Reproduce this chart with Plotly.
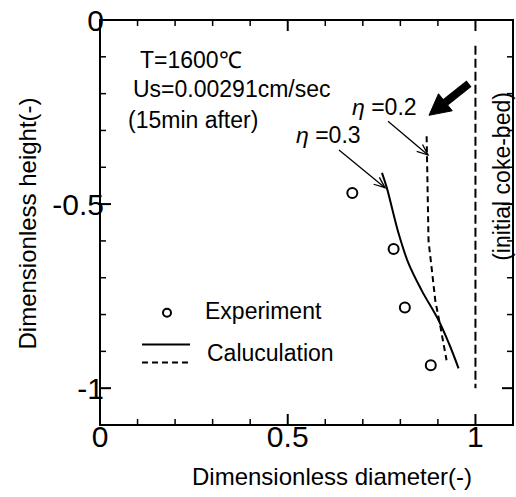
import math
import plotly.graph_objects as go

# Experimental points
exp_x = [0.672, 0.782, 0.812, 0.881]
exp_y = [-0.470, -0.622, -0.781, -0.938]

# Calculation eta = 0.3 (solid)
calc03_x = [0.751, 0.764, 0.780, 0.796, 0.822, 0.857, 0.902, 0.930, 0.955]
calc03_y = [-0.415, -0.456, -0.520, -0.582, -0.662, -0.735, -0.816, -0.880, -0.946]

# Calculation eta = 0.2 (dashed)
calc02_x = [0.870, 0.871, 0.873, 0.875, 0.884, 0.893, 0.907, 0.923]
calc02_y = [-0.316, -0.400, -0.500, -0.600, -0.680, -0.762, -0.835, -0.924]

# Initial coke-bed
bed_x = [1.0, 1.0]
bed_y = [-0.07, -1.0]

x_minor = [round(0.1 * i, 1) for i in range(12)]
y_minor = [round(-0.1 * i, 1) for i in range(12)]
x_major = [0.0, 0.5, 1.0]
y_major = [0.0, -0.5, -1.0]
x_labels = ["0", "0.5", "1"]
y_labels = ["0", "-0.5", "-1"]

FONT = "Liberation Sans, Arial, sans-serif"
W, H = 516, 497
L, R, T, B = 100, 3, 17, 72
pw, ph = W - L - R, H - T - B
XMAX, YMIN = 1.1, -1.1

def px(xp):
    return (xp - L) / pw

def py(yp):
    return 1 - (yp - T) / ph

def dx(xp):
    return (xp - L) / pw * XMAX

def dy(yp):
    return (yp - T) / ph * YMIN

fig = go.Figure()
fig.add_trace(go.Scatter(x=bed_x, y=bed_y, mode="lines",
                         line=dict(color="black", width=2, dash="9px,4px"), showlegend=False))
fig.add_trace(go.Scatter(x=calc02_x, y=calc02_y, mode="lines",
                         line=dict(color="black", width=2, dash="6px,4px"), showlegend=False))
fig.add_trace(go.Scatter(x=calc03_x, y=calc03_y, mode="lines", line_shape="spline",
                         line=dict(color="black", width=2), showlegend=False))
fig.add_trace(go.Scatter(x=exp_x, y=exp_y, mode="markers",
                         marker=dict(symbol="circle-open", size=10, color="black", line=dict(width=2)),
                         showlegend=False))

base = dict(showline=False, ticks="", showgrid=False, zeroline=False)
fig.update_layout(
    xaxis=dict(range=[0, XMAX], tickmode="array", tickvals=x_major, ticktext=x_labels,
               ticklabelstandoff=-9, tickfont=dict(family=FONT, size=30, color="black"), **base),
    yaxis=dict(range=[YMIN, 0], tickmode="array", tickvals=y_major, ticktext=y_labels,
               ticklabelstandoff=-5, tickfont=dict(family=FONT, size=30, color="black"), **base),
)

shapes = []
shapes.append(dict(type="rect", xref="paper", yref="paper", x0=0, x1=1, y0=0, y1=1,
                   line=dict(color="black", width=2), layer="above"))

def xtick(v, ln, w):
    out = []
    for anchor, sign in [(0, 1), (1, -1)]:
        out.append(dict(type="line", xref="x", x0=v, x1=v, yref="paper", ysizemode="pixel",
                        yanchor=anchor, y0=0, y1=sign * ln, line=dict(color="black", width=w),
                        layer="above"))
    return out

def ytick(v, ln, w):
    out = []
    for anchor, sign in [(0, 1), (1, -1)]:
        out.append(dict(type="line", yref="y", y0=v, y1=v, xref="paper", xsizemode="pixel",
                        xanchor=anchor, x0=0, x1=sign * ln, line=dict(color="black", width=w),
                        layer="above"))
    return out

for v in x_minor:
    major = v in x_major
    shapes += xtick(v, 11 if major else 6, 2 if major else 1.5)
for v in y_minor:
    major = v in y_major
    shapes += ytick(v, 11 if major else 6, 2 if major else 1.5)

# legend samples
shapes += [
    dict(type="circle", xref="paper", yref="paper", x0=px(163), x1=px(171), y0=py(316), y1=py(308),
         line=dict(color="black", width=2)),
    dict(type="line", xref="paper", yref="paper", x0=px(142), x1=px(190), y0=py(344), y1=py(344),
         line=dict(color="black", width=2)),
    dict(type="line", xref="paper", yref="paper", x0=px(142), x1=px(188), y0=py(362), y1=py(362),
         line=dict(color="black", width=2, dash="6px,4px")),
]

# arrows drawn as shapes (tail/tip in picture pixels)
def arrow(tail, tip, head_len, head_half, width, filled):
    (tx, ty), (hx, hy) = tail, tip
    ln = math.hypot(hx - tx, hy - ty)
    ux, uy = (hx - tx) / ln, (hy - ty) / ln
    nx, ny = -uy, ux
    bx, by = hx - head_len * ux, hy - head_len * uy
    c1 = (bx + head_half * nx, by + head_half * ny)
    c2 = (bx - head_half * nx, by - head_half * ny)
    out = []
    end = (bx, by) if filled else (hx, hy)
    out.append(dict(type="line", xref="x", yref="y", x0=dx(tx), y0=dy(ty), x1=dx(end[0]), y1=dy(end[1]),
                    line=dict(color="black", width=width)))
    path = "M {:.4f},{:.4f} L {:.4f},{:.4f} L {:.4f},{:.4f}".format(
        dx(c1[0]), dy(c1[1]), dx(hx), dy(hy), dx(c2[0]), dy(c2[1]))
    if filled:
        out.append(dict(type="path", xref="x", yref="y", path=path + " Z", fillcolor="black",
                        line=dict(color="black", width=1)))
    else:
        out.append(dict(type="path", xref="x", yref="y", path=path,
                        line=dict(color="black", width=width)))
    return out

shapes += arrow((339, 148), (385, 186), 11, 4.5, 1.3, False)
shapes += arrow((388, 119), (428, 153), 11, 4.5, 1.3, False)
shapes += arrow((469, 81), (429, 113), 21, 11, 8, True)

def text_ann(txt, xx, yy, size=23, xanchor="center", angle=0):
    return dict(x=px(xx), y=py(yy), xref="paper", yref="paper", text=txt,
                xanchor=xanchor, yanchor="middle", textangle=angle, showarrow=False,
                font=dict(family=FONT, size=size, color="black"))

ann = [
    text_ann("Dimensionless diameter(-)", 332, 477, size=24),
    text_ann("Dimensionless height(-)", 27, 222, size=24, angle=-90),
    text_ann("T=1600℃", 138, 57, xanchor="left"),
    text_ann("Us=0.00291cm/sec", 131, 87, xanchor="left"),
    text_ann("(15min after)", 126, 118, xanchor="left"),
    text_ann("<i>η</i> =0.3", 328, 133),
    text_ann("<i>η</i> =0.2", 384, 105),
    text_ann("(initial coke-bed)", 502, 175, size=23, angle=-90),
    text_ann("Experiment", 203, 310, xanchor="left"),
    text_ann("Caluculation", 205, 352, xanchor="left"),
]

fig.update_layout(
    width=W, height=H, margin=dict(l=L, r=R, t=T, b=B),
    paper_bgcolor="white", plot_bgcolor="white",
    annotations=ann, shapes=shapes, showlegend=False,
)
fig.write_html("out.html")
